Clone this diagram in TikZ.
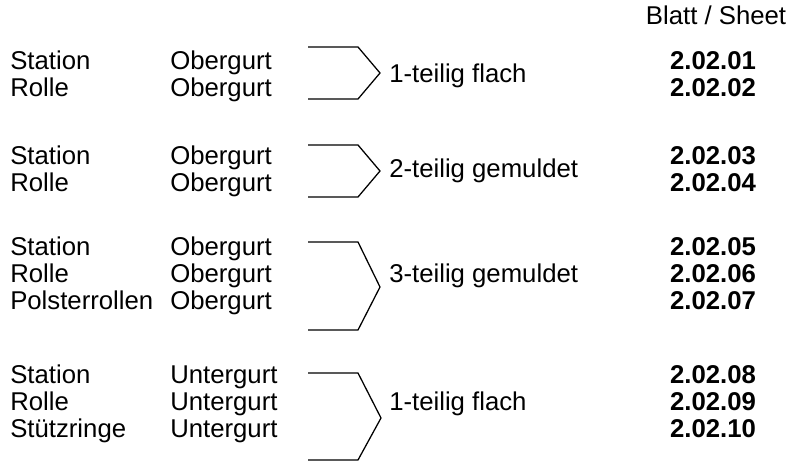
\documentclass[tikz,border=0pt]{standalone}
\usepackage{fontspec}
\setmainfont{Liberation Sans}
\usetikzlibrary{positioning}
\tikzset{row node/.style={anchor=base west,inner sep=0pt,font=\fontsize{19.3}{22}\selectfont},
  sheet node/.style={anchor=base,inner sep=0pt,font=\fontsize{19.3}{22}\selectfont\bfseries},
  brace line/.style={line width=0.95pt,line join=miter},}
\begin{document}
\begin{tikzpicture}[x=0.75pt,y=-0.75pt]
    \useasboundingbox (0,0) rectangle (793,464);

    % header
    \node[sheet node,font=\fontsize{19.3}{22}\selectfont] (head) at (716,24) {Blatt / Sheet};

    % group 1
    \node[row node] (a1) at (10,69) {Station};
    \node[row node] (b1) at (170,69) {Obergurt};
    \node[row node] (a2) at (10,96) {Rolle};
    \node[row node] (b2) at (170,96) {Obergurt};
    \node[row node] (l1) at (389,82) {1-teilig flach};
    \node[sheet node] (n1) at (713,69) {2.02.01};
    \node[sheet node] (n2) at (713,96) {2.02.02};
    \draw[brace line] (308,47) -- (358,47) -- (380,73) -- (358,99) -- (308,99);

    % group 2
    \node[row node] (a3) at (10,164) {Station};
    \node[row node] (b3) at (170,164) {Obergurt};
    \node[row node] (a4) at (10,191) {Rolle};
    \node[row node] (b4) at (170,191) {Obergurt};
    \node[row node] (l2) at (389,177) {2-teilig gemuldet};
    \node[sheet node] (n3) at (713,164) {2.02.03};
    \node[sheet node] (n4) at (713,191) {2.02.04};
    \draw[brace line] (308,145) -- (358,145) -- (380,171) -- (358,197) -- (308,197);

    % group 3
    \node[row node] (a5) at (10,255) {Station};
    \node[row node] (b5) at (170,255) {Obergurt};
    \node[row node] (a6) at (10,282) {Rolle};
    \node[row node] (b6) at (170,282) {Obergurt};
    \node[row node] (a7) at (10,309) {Polsterrollen};
    \node[row node] (b7) at (170,309) {Obergurt};
    \node[row node] (l3) at (389,282) {3-teilig gemuldet};
    \node[sheet node] (n5) at (713,255) {2.02.05};
    \node[sheet node] (n6) at (713,282) {2.02.06};
    \node[sheet node] (n7) at (713,309) {2.02.07};
    \draw[brace line] (308,242) -- (358,242) -- (380,287) -- (358,330) -- (308,330);

    % group 4
    \node[row node] (a8) at (10,383) {Station};
    \node[row node] (b8) at (170,383) {Untergurt};
    \node[row node] (a9) at (10,410) {Rolle};
    \node[row node] (b9) at (170,410) {Untergurt};
    \node[row node] (a10) at (10,437) {Stützringe};
    \node[row node] (b10) at (170,437) {Untergurt};
    \node[row node] (l4) at (389,410) {1-teilig flach};
    \node[sheet node] (n8) at (713,383) {2.02.08};
    \node[sheet node] (n9) at (713,410) {2.02.09};
    \node[sheet node] (n10) at (713,437) {2.02.10};
    \draw[brace line] (308,373) -- (358,373) -- (381,418) -- (358,460) -- (308,460);

\end{tikzpicture}
\end{document}
